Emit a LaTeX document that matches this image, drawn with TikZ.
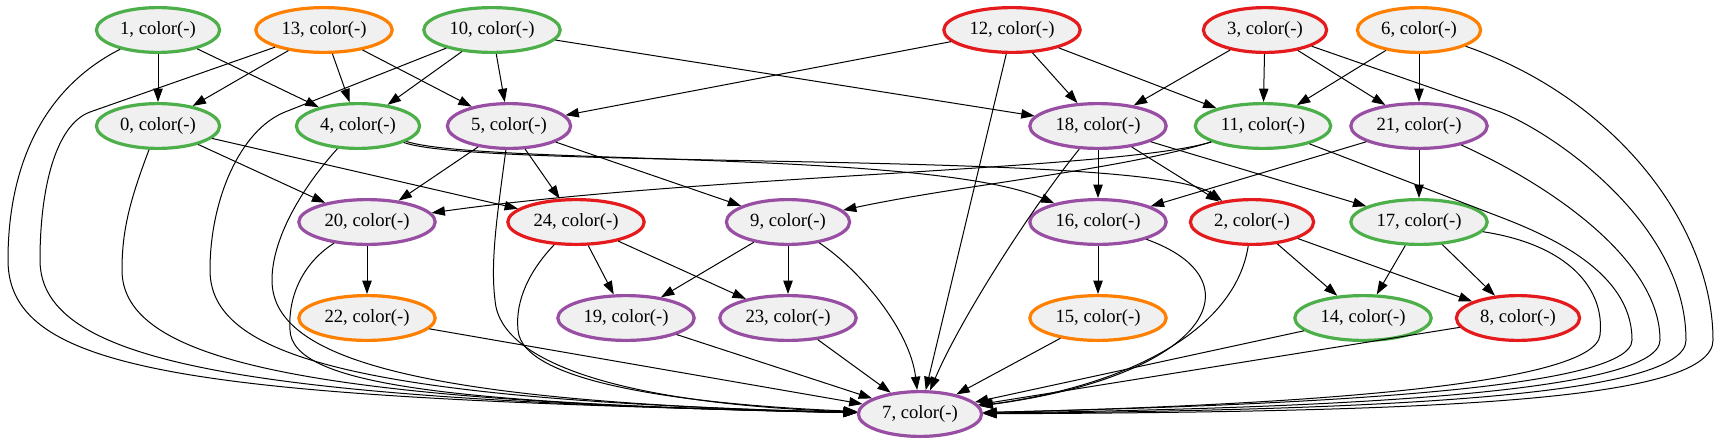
\documentclass[tikz,border=0pt]{standalone}
\usepackage{fontspec}
\setmainfont{Liberation Serif}
\usepackage{tikz}
\usetikzlibrary{shapes.geometric, arrows.meta}
\definecolor{myred}{RGB}{228,26,28}
\definecolor{mygreen}{RGB}{77,175,74}
\definecolor{mypurple}{RGB}{152,78,163}
\definecolor{myorange}{RGB}{255,127,0}
\definecolor{nodefill}{RGB}{240,240,240}
\tikzset{
  vtx/.style={ellipse, fill=nodefill, line width=2.4pt,
    inner xsep=4.3pt, inner ysep=1pt, minimum height=33.6pt,
    font=\fontsize{14}{16}\selectfont},
  greenvtx/.style={vtx, draw=mygreen},
  redvtx/.style={vtx, draw=myred},
  purpvtx/.style={vtx, draw=mypurple},
  orangevtx/.style={vtx, draw=myorange},
  arrow/.style={-{Triangle[length=10pt, width=7pt]}, line width=0.75pt, color=black}
}

\begin{document}
\begin{tikzpicture}[x=0.75pt, y=-0.75pt]
  \useasboundingbox (0,0) rectangle (1728,443);

  % Rank 1
  \node[greenvtx] (v1) at (158,30) {1, color(-)};
  \node[orangevtx] (v13) at (324,30) {13, color(-)};
  \node[greenvtx] (v10) at (492,30) {10, color(-)};
  \node[redvtx] (v12) at (1012,30) {12, color(-)};
  \node[redvtx] (v3) at (1265,30) {3, color(-)};
  \node[orangevtx] (v6) at (1419,30) {6, color(-)};

  % Rank 2
  \node[greenvtx] (v0) at (158,126) {0, color(-)};
  \node[greenvtx] (v4) at (358,126) {4, color(-)};
  \node[purpvtx] (v5) at (509,126) {5, color(-)};
  \node[purpvtx] (v18) at (1098,126) {18, color(-)};
  \node[greenvtx] (v11) at (1263,126) {11, color(-)};
  \node[purpvtx] (v21) at (1419,126) {21, color(-)};

  % Rank 3
  \node[purpvtx] (v20) at (367,222) {20, color(-)};
  \node[redvtx] (v24) at (576,222) {24, color(-)};
  \node[purpvtx] (v9) at (788,222) {9, color(-)};
  \node[purpvtx] (v16) at (1098,222) {16, color(-)};
  \node[redvtx] (v2) at (1252,222) {2, color(-)};
  \node[greenvtx] (v17) at (1419,222) {17, color(-)};

  % Rank 4
  \node[orangevtx] (v22) at (367,318) {22, color(-)};
  \node[purpvtx] (v19) at (626,318) {19, color(-)};
  \node[purpvtx] (v23) at (788,318) {23, color(-)};
  \node[orangevtx] (v15) at (1098,318) {15, color(-)};
  \node[greenvtx] (v14) at (1363,318) {14, color(-)};
  \node[redvtx] (v8) at (1518,318) {8, color(-)};

  % Sink
  \node[purpvtx] (v7) at (920,414) {7, color(-)};

  % Short edges
  \draw[arrow] (v1) -- (v0);
  \draw[arrow] (v1) -- (v4);
  \draw[arrow] (v13) -- (v0);
  \draw[arrow] (v13) -- (v4);
  \draw[arrow] (v13) -- (v5);
  \draw[arrow] (v10) -- (v4);
  \draw[arrow] (v10) -- (v5);
  \draw[arrow] (v10) -- (v18);
  \draw[arrow] (v12) -- (v5);
  \draw[arrow] (v12) -- (v18);
  \draw[arrow] (v12) -- (v11);
  \draw[arrow] (v3) -- (v18);
  \draw[arrow] (v3) -- (v11);
  \draw[arrow] (v3) -- (v21);
  \draw[arrow] (v6) -- (v11);
  \draw[arrow] (v6) -- (v21);
  \draw[arrow] (v0) -- (v20);
  \draw[arrow] (v0) -- (v24);
  \draw[arrow] (v5) -- (v20);
  \draw[arrow] (v5) -- (v24);
  \draw[arrow] (v5) -- (v9);
  \draw[arrow] (v18) -- (v16);
  \draw[arrow] (v18) -- (v2);
  \draw[arrow] (v18) -- (v17);
  \draw[arrow] (v21) -- (v16);
  \draw[arrow] (v21) -- (v17);
  \draw[arrow] (v20) -- (v22);
  \draw[arrow] (v24) -- (v19);
  \draw[arrow] (v24) -- (v23);
  \draw[arrow] (v9) -- (v19);
  \draw[arrow] (v9) -- (v23);
  \draw[arrow] (v16) -- (v15);
  \draw[arrow] (v2) -- (v14);
  \draw[arrow] (v2) -- (v8);
  \draw[arrow] (v17) -- (v14);
  \draw[arrow] (v17) -- (v8);

  % Long edges across ranks
  \draw[arrow] (v4) .. controls (480,165) and (930,150) .. (v16);
  \draw[arrow] (v4) .. controls (480,170) and (1150,150) .. (v2);
  \draw[arrow] (v11) .. controls (1120,170) and (700,175) .. (v20);
  \draw[arrow] (v11) .. controls (1120,170) and (960,185) .. (v9);

  % Into the sink, left side
  \draw[arrow] (v1) .. controls (40,90) and (8,170) .. (8,260) .. controls (8,375) and (200,398) .. (v7);
  \draw[arrow] (v13) -- (90,112) .. controls (55,125) and (40,190) .. (40,260) .. controls (40,365) and (250,400) .. (v7);
  \draw[arrow] (v0) .. controls (130,200) and (122,230) .. (122,270) .. controls (122,360) and (300,402) .. (v7);
  \draw[arrow] (v10) -- (285,112) .. controls (240,130) and (210,200) .. (210,270) .. controls (210,355) and (350,400) .. (v7);
  \draw[arrow] (v4) .. controls (300,190) and (272,240) .. (272,280) .. controls (272,355) and (400,402) .. (v7);
  \draw[arrow] (v20) .. controls (300,265) and (288,300) .. (290,330) .. controls (292,385) and (450,404) .. (v7);
  \draw[arrow] (v22) -- (v7);
  \draw[arrow] (v24) .. controls (530,270) and (515,300) .. (518,330) .. controls (522,385) and (700,405) .. (v7);
  \draw[arrow] (v5) .. controls (498,210) and (490,260) .. (495,300) .. controls (500,370) and (650,405) .. (v7);
  \draw[arrow] (v19) -- (v7);
  \draw[arrow] (v23) -- (v7);
  \draw[arrow] (v9) .. controls (860,270) and (910,330) .. (v7);

  % Into the sink, from above and right
  \draw[arrow] (v12) -- (v7);
  \draw[arrow] (v18) .. controls (1030,210) and (960,320) .. (v7);
  \draw[arrow] (v15) -- (v7);
  \draw[arrow] (v16) .. controls (1260,280) and (1210,375) .. (v7);
  \draw[arrow] (v2) .. controls (1235,330) and (1130,385) .. (v7);
  \draw[arrow] (v14) -- (v7);
  \draw[arrow] (v8) -- (v7);
  \draw[arrow] (v17) .. controls (1570,245) and (1605,290) .. (1600,335) .. controls (1595,385) and (1300,405) .. (v7);
  \draw[arrow] (v11) -- (1495,215) .. controls (1545,234) and (1632,270) .. (1632,340) .. controls (1632,390) and (1300,405) .. (v7);
  \draw[arrow] (v21) .. controls (1550,185) and (1660,260) .. (1660,340) .. controls (1660,392) and (1350,408) .. (v7);
  \draw[arrow] (v3) -- (1495,110) .. controls (1545,127) and (1686,220) .. (1686,340) .. controls (1686,395) and (1400,410) .. (v7);
  \draw[arrow] (v6) .. controls (1620,100) and (1713,230) .. (1713,340) .. controls (1713,400) and (1450,412) .. (v7);
\end{tikzpicture}
\end{document}
